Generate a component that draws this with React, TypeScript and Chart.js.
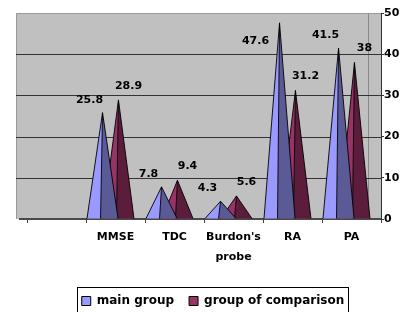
import React, { useEffect, useRef } from "react";
import { Chart, registerables } from "chart.js";

Chart.register(...registerables);

const categories: (string | string[])[] = ["", "MMSE", "TDC", ["Burdon's", "probe"], "RA", "PA"];
const seriesNames = ["main group", "group of comparison"];
const mainGroup: (number | null)[] = [null, 25.8, 7.8, 4.3, 47.6, 41.5];
const comparisonGroup: (number | null)[] = [null, 28.9, 9.4, 5.6, 31.2, 38];
const yTicks = { min: 0, max: 50, step: 10 };

const FONT = "DejaVu Sans";
const FACES = [
  { light: "#9999FF", dark: "#5A5A96" },
  { light: "#993366", dark: "#5C1C3C" },
];
const DEPTH_SHIFT = -5;
const WALL_LEFT = 11;
const WALL_RIGHT = 13;
const LEGEND_SHIFT = { x: -1, y: 5 };

const wallPlugin = {
  id: "wall3d",
  afterLayout(chart: any) {
    const lg = chart.legend;
    if (lg) {
      lg.left += LEGEND_SHIFT.x;
      lg.right += LEGEND_SHIFT.x;
      lg.top += LEGEND_SHIFT.y;
      lg.bottom += LEGEND_SHIFT.y;
    }
  },
  beforeDraw(chart: any) {
    const { ctx, chartArea: a, scales } = chart;
    const ys = scales.y;
    const L = a.left - WALL_LEFT;
    ctx.save();
    ctx.fillStyle = "#C0C0C0";
    ctx.fillRect(L, a.top, a.right - L, a.bottom - a.top);
    ctx.strokeStyle = "#9A9A9A";
    ctx.lineWidth = 1;
    ctx.beginPath();
    ctx.moveTo(L + 0.5, a.bottom);
    ctx.lineTo(L + 0.5, a.top + 0.5);
    ctx.lineTo(a.right, a.top + 0.5);
    ctx.stroke();
    ctx.strokeStyle = "#8A8A8A";
    ctx.beginPath();
    ctx.moveTo(a.right - WALL_RIGHT + 0.5, a.top);
    ctx.lineTo(a.right - WALL_RIGHT + 0.5, a.bottom);
    ctx.stroke();
    ctx.strokeStyle = "#333333";
    ys.ticks.forEach((t: any) => {
      if (t.value <= yTicks.min || t.value >= yTicks.max) return;
      const py = Math.round(ys.getPixelForValue(t.value)) + 0.5;
      ctx.beginPath();
      ctx.moveTo(L, py);
      ctx.lineTo(a.right, py);
      ctx.stroke();
    });
    ctx.fillStyle = "#4A4A4A";
    ctx.fillRect(a.left - 8, a.bottom - 1, a.right - a.left + 8, 2);
    ctx.restore();
  },
  beforeDatasetsDraw(chart: any) {
    const ctx = chart.ctx;
    ctx.save();
    for (let di = chart.data.datasets.length - 1; di >= 0; di--) {
      const meta = chart.getDatasetMeta(di);
      const face = FACES[di];
      meta.data.forEach((el: any, i: number) => {
        const v = chart.data.datasets[di].data[i];
        if (v == null) return;
        const { x, y, base, width } = el.getProps(["x", "y", "base", "width"], true);
        const cx = x + DEPTH_SHIFT;
        const hw = width / 2;
        const split = cx - 2;
        ctx.beginPath();
        ctx.moveTo(cx - hw, base);
        ctx.lineTo(cx, y);
        ctx.lineTo(split, base);
        ctx.closePath();
        ctx.fillStyle = face.light;
        ctx.fill();
        ctx.beginPath();
        ctx.moveTo(split, base);
        ctx.lineTo(cx, y);
        ctx.lineTo(cx + hw, base);
        ctx.closePath();
        ctx.fillStyle = face.dark;
        ctx.fill();
        ctx.beginPath();
        ctx.moveTo(cx - hw, base);
        ctx.lineTo(cx, y);
        ctx.lineTo(cx + hw, base);
        ctx.moveTo(cx, y);
        ctx.lineTo(split, base);
        ctx.strokeStyle = "#000";
        ctx.lineWidth = 0.9;
        ctx.stroke();
      });
    }
    ctx.restore();
    return false;
  },
  afterDraw(chart: any) {
    const { ctx, chartArea: a } = chart;
    ctx.save();
    ctx.font = `bold 11px "${FONT}"`;
    ctx.fillStyle = "#000";
    ctx.textAlign = "center";
    ctx.textBaseline = "middle";
    chart.data.datasets.forEach((ds: any, di: number) => {
      const meta = chart.getDatasetMeta(di);
      meta.data.forEach((el: any, i: number) => {
        const v = ds.data[i];
        if (v == null) return;
        const { x, y } = el.getProps(["x", "y"], true);
        const cx = x + DEPTH_SHIFT;
        let lx = di === 0 ? cx - 13 : cx + 10;
        let ly = di === 0 ? y - 13 : y - 14;
        if (ly - 5 < a.top) {
          lx = cx - 24;
          ly = y + 18;
        }
        ctx.fillText(String(v), lx, ly);
      });
    });
    const lg = chart.legend;
    if (lg && lg.legendHitBoxes && lg.legendHitBoxes.length) {
      const hb = lg.legendHitBoxes;
      const first = hb[0];
      const last = hb[hb.length - 1];
      const cy = first.top + first.height / 2;
      const l = Math.round(first.left - 5) + 0.5;
      const r = Math.round(last.left + last.width + 4) + 0.5;
      const t = Math.round(cy - 14) + 0.5;
      ctx.strokeStyle = "#000";
      ctx.lineWidth = 1;
      ctx.strokeRect(l, t, r - l, 28);
    }
    ctx.restore();
  },
};

export default function App() {
  const ref = useRef<HTMLCanvasElement | null>(null);
  useEffect(() => {
    if (!ref.current) return;
    const chart = new Chart(ref.current, {
      type: "bar",
      data: {
        labels: categories,
        datasets: [
          {
            label: seriesNames[0],
            data: mainGroup,
            backgroundColor: FACES[0].light,
            borderColor: "#000",
            borderWidth: 1,
            categoryPercentage: 0.54,
            barPercentage: 1.95,
          },
          {
            label: seriesNames[1],
            data: comparisonGroup,
            backgroundColor: FACES[1].light,
            borderColor: "#000",
            borderWidth: 1,
            categoryPercentage: 0.54,
            barPercentage: 1.95,
          },
        ],
      },
      options: {
        animation: false,
        responsive: false,
        layout: { padding: { left: 27, top: 13, right: 0, bottom: 0 } },
        plugins: {
          legend: {
            position: "bottom",
            labels: {
              boxWidth: 9,
              boxHeight: 9,
              padding: 15,
              color: "#000",
              font: { family: FONT, size: 12, weight: "bold" },
            },
          },
          tooltip: { enabled: false },
        },
        scales: {
          x: {
            grid: { offset: true, drawOnChartArea: false, tickLength: 4, color: "#444" },
            border: { display: false },
            ticks: {
              color: "#000",
              padding: 5,
              maxRotation: 0,
              autoSkip: false,
              font: { family: FONT, size: 11, weight: "bold", lineHeight: 1.75 },
            },
            afterFit: (s: any) => {
              s.height = 56;
            },
          },
          y: {
            position: "right",
            min: yTicks.min,
            max: yTicks.max,
            ticks: {
              stepSize: yTicks.step,
              color: "#000",
              padding: 0,
              font: { family: FONT, size: 11, weight: "bold" },
            },
            grid: { drawOnChartArea: false, tickLength: 3, color: "#333" },
            border: { display: true, color: "#333" },
            afterFit: (s: any) => {
              s.width = 20;
            },
          },
        },
      },
      plugins: [wallPlugin],
    });
    return () => chart.destroy();
  }, []);
  return (
    <div style={{ position: "absolute", left: 0, top: 0, width: 401, height: 312, background: "#fff" }}>
      <canvas ref={ref} width={401} height={312} />
    </div>
  );
}
